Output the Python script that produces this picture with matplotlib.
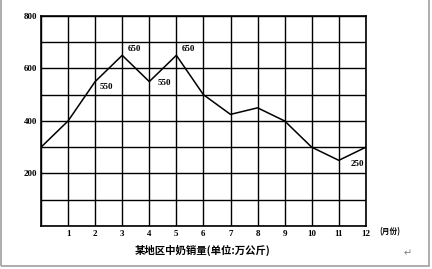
import matplotlib.pyplot as plt
from matplotlib.patches import Rectangle

plt.rcParams['font.family'] = ['Noto Sans CJK SC', 'DejaVu Sans']

months = [0, 1, 2, 3, 4, 5, 6, 7, 8, 9, 10, 11, 12]
sales = [300, 400, 550, 650, 550, 650, 500, 425, 450, 400, 300, 250, 300]
y_ticks = [200, 400, 600, 800]
x_tick_labels = ['1', '2', '3', '4', '5', '6', '7', '8', '9', '10', '11', '12']

# labelled points: (month index, text, dx, dy in points)
labels = [(2, '550', 3, -6.5), (3, '650', 4, 1.5), (4, '550', 6, -4),
          (5, '650', 4, 1.5), (11, '250', 8.5, -5.5)]

num_font = dict(family='Liberation Serif', fontweight='bold')

fig = plt.figure(figsize=(4.32, 2.69), dpi=100)
ax = fig.add_axes([0.0949, 0.160, 0.752, 0.7807])

# page border like the screenshot
fig.patches.append(Rectangle((0.003, 0.01), 0.99, 1.2, transform=fig.transFigure,
                             fill=False, edgecolor='#a0a0a0', linewidth=1.2))

ax.plot(months, sales, color='black', linewidth=1.1, zorder=3)

ax.set_xlim(0, 12)
ax.set_ylim(0, 800)
ax.set_xticks(range(1, 13))
ax.set_xticks(range(0, 13), minor=True)
ax.set_yticks(y_ticks)
ax.set_yticks(range(0, 801, 100), minor=True)
ax.set_xticklabels(x_tick_labels, fontsize=6.5, **num_font)
ax.set_yticklabels([str(v) for v in y_ticks], fontsize=6.5, **num_font)
ax.tick_params(which='both', length=0, pad=3)
ax.grid(which='both', color='black', linewidth=1.0)
for s in ax.spines.values():
    s.set_linewidth(1.2)

for i, txt, dx, dy in labels:
    ax.annotate(txt, (months[i], sales[i]), xytext=(dx, dy), textcoords='offset points',
                fontsize=6.5, va='bottom', ha='left', **num_font)

ax.text(12.5, -23, '(月份)', fontsize=5.5, fontweight='bold', va='center', ha='left',
        clip_on=False)

fig.text(0.468, 0.07, '某地区中奶销量(单位:万公斤)', fontsize=7.5, fontweight='bold',
         ha='center', va='center')
fig.text(0.943, 0.06, '↵', fontsize=7, color='#808080', ha='center', va='center',
         family='DejaVu Sans')

fig.savefig('out.png', dpi=100)
